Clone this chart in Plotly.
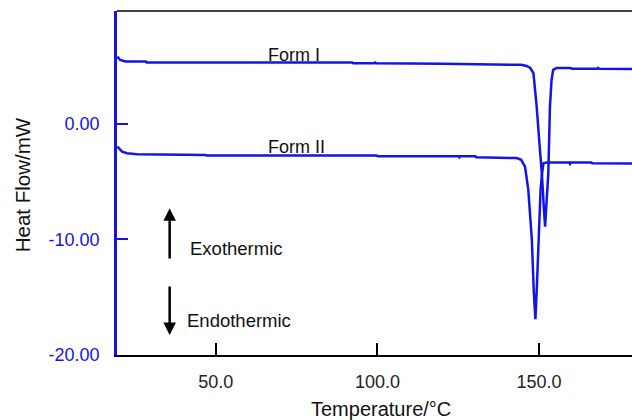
import plotly.graph_objects as go

# ---- data ----
form1_T = [19.5, 20.4, 22.0, 28.3, 28.6, 60.0, 92.2, 92.5, 99.0, 99.3, 99.6, 120.0, 137.0,
           143.1, 144.5, 146.2, 147.3, 148.3, 149.3, 150.1, 150.9, 151.5, 151.9, 152.3, 152.9,
           153.4, 153.9, 154.4, 155.5, 159.6, 160.3, 168.0, 168.3, 168.6, 178.8]
form1_hf = [5.83, 5.54, 5.41, 5.41, 5.33, 5.33, 5.33, 5.25, 5.25, 5.32, 5.25, 5.22, 5.17,
            5.17, 5.12, 5.02, 4.85, 4.39, 1.5, -1.5, -4.27, -7.2, -8.9, -7.0, -4.27,
            1.5, 3.8, 4.68, 4.85, 4.85, 4.78, 4.78, 4.85, 4.78, 4.76]

form2_T = [19.5, 21.0, 22.5, 25.6, 46.8, 47.1, 99.8, 100.1, 125.2, 125.4, 125.6, 130.3, 130.6,
           143.1, 144.5, 145.7, 146.7, 147.8, 148.4, 148.9, 149.3, 149.8, 150.5, 151.0, 151.4,
           152.4, 159.4, 159.6, 159.9, 166.2, 166.5, 178.8]
form2_hf = [-1.96, -2.4, -2.54, -2.62, -2.68, -2.74, -2.74, -2.8, -2.8, -2.88, -2.8, -2.8, -2.89,
            -2.95, -3.1, -3.7, -5.7, -10.0, -14.5, -16.9, -14.5, -10.0, -5.7, -4.2, -3.4,
            -3.33, -3.33, -3.45, -3.33, -3.33, -3.4, -3.42]

x_ticks = [50, 100, 150]
x_tick_labels = ["50.0", "100.0", "150.0"]
y_ticks = [-20, -10, 0]
y_tick_labels = ["-20.00", "-10.00", "0.00"]

BLUE = "#1414e6"
FONT = "Liberation Sans, Arial, sans-serif"

fig = go.Figure()
fig.add_trace(go.Scatter(x=form1_T, y=form1_hf, mode="lines",
                         line=dict(color=BLUE, width=2.5), name="Form I"))
fig.add_trace(go.Scatter(x=form2_T, y=form2_hf, mode="lines",
                         line=dict(color=BLUE, width=2.5), name="Form II"))

fig.update_layout(
    width=632, height=420,
    margin=dict(l=117, r=0, t=11, b=65),
    paper_bgcolor="white", plot_bgcolor="white",
    showlegend=False,
    font=dict(family=FONT, color="black"),
    xaxis=dict(range=[19.4, 178.8], tickvals=x_ticks, ticktext=x_tick_labels,
               showgrid=False, zeroline=False, showline=True, linecolor="black", linewidth=2,
               ticks="inside", ticklen=12, tickwidth=2, tickcolor="black",
               tickfont=dict(size=18, color="#222"), ticklabelstandoff=9),
    yaxis=dict(range=[-20, 9.78], tickvals=y_ticks, ticktext=y_tick_labels,
               showgrid=False, zeroline=False, showline=True, linecolor=BLUE, linewidth=2.5,
               ticks="inside", ticklen=11, tickwidth=2, tickcolor=BLUE,
               tickfont=dict(size=18, color=BLUE), ticklabelstandoff=11),
    shapes=[dict(type="line", xref="paper", yref="paper", x0=0, x1=1, y0=1, y1=1,
                 line=dict(color="black", width=1.5))],
)

ann = [
    dict(x=74.2, y=6.0, xref="x", yref="y", text="Form I", showarrow=False,
         font=dict(size=18, color="#111")),
    dict(x=74.9, y=-1.95, xref="x", yref="y", text="Form II", showarrow=False,
         font=dict(size=18, color="#111")),
    dict(x=41.3, y=-10.76, xref="x", yref="y", text="Exothermic", showarrow=False,
         xanchor="left", font=dict(size=18.5, color="#111")),
    dict(x=40.6, y=-16.97, xref="x", yref="y", text="Endothermic", showarrow=False,
         xanchor="left", font=dict(size=18.5, color="#111")),
    dict(x=35.7, y=-7.3, ax=35.7, ay=-11.78, xref="x", yref="y", axref="x", ayref="y",
         text="", showarrow=True, arrowhead=2, arrowsize=1, arrowwidth=2.5, arrowcolor="black"),
    dict(x=35.7, y=-18.27, ax=35.7, ay=-13.94, xref="x", yref="y", axref="x", ayref="y",
         text="", showarrow=True, arrowhead=2, arrowsize=1, arrowwidth=2.5, arrowcolor="black"),
    dict(x=-0.184, y=0.494, xref="paper", yref="paper", text="Heat Flow/mW", showarrow=False,
         xanchor="center", yanchor="middle",
         textangle=-90, font=dict(size=20.5, color="#111")),
    dict(x=0.513, y=-0.157, xref="paper", yref="paper", text="Temperature/°C", showarrow=False,
         xanchor="center", yanchor="middle",
         font=dict(size=20, color="#111")),
]
fig.update_layout(annotations=ann)

fig.write_html(
    "out.html",
    config={"displayModeBar": False},
    post_script="document.body.style.margin='0px';"
                "document.documentElement.style.overflow='hidden';"
                "document.body.style.overflow='hidden';",
)
